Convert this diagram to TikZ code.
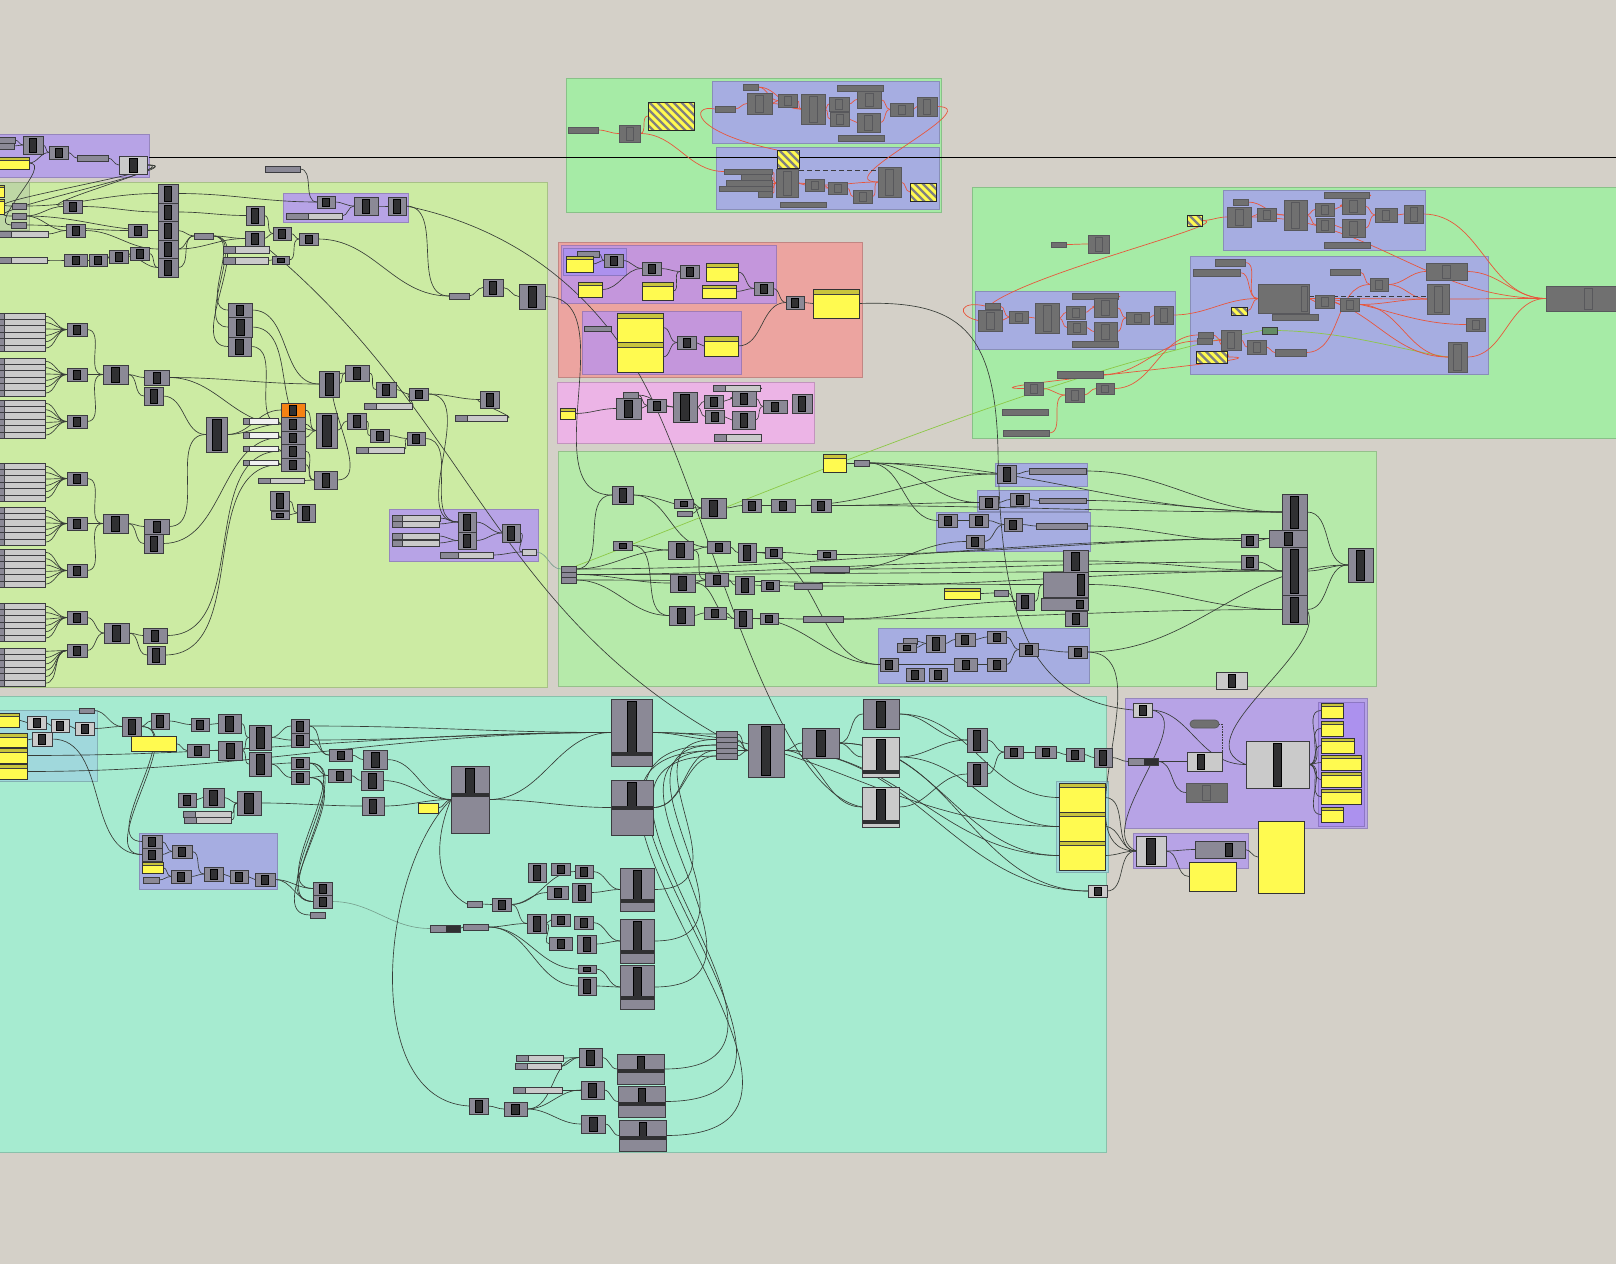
\documentclass[tikz,border=0pt]{standalone}
\definecolor{canvas}{RGB}{212,208,200}
\definecolor{grpgreen}{RGB}{166,235,166}
\definecolor{grplime}{RGB}{204,235,163}
\definecolor{grpmint}{RGB}{182,234,170}
\definecolor{grpteal}{RGB}{166,235,208}
\definecolor{grpblue}{RGB}{166,173,225}
\definecolor{grplav}{RGB}{183,163,230}
\definecolor{grpviolet}{RGB}{172,145,238}
\definecolor{grpmauve}{RGB}{196,150,220}
\definecolor{grpsalmon}{RGB}{236,164,160}
\definecolor{grppink}{RGB}{236,180,230}
\definecolor{grpcyan}{RGB}{160,216,220}
\definecolor{grpsage}{RGB}{190,215,165}
\definecolor{cgray}{RGB}{139,137,150}
\definecolor{cedge}{RGB}{60,60,64}
\definecolor{cbar}{RGB}{48,48,50}
\definecolor{clight}{RGB}{202,202,202}
\definecolor{cghost}{RGB}{112,112,112}
\definecolor{cghostedge}{RGB}{88,88,92}
\definecolor{cyellow}{RGB}{255,250,80}
\definecolor{chead}{RGB}{200,196,60}
\definecolor{corange}{RGB}{245,130,20}
\definecolor{cgreenbox}{RGB}{100,140,100}
\definecolor{wirec}{RGB}{55,60,55}
\definecolor{wirered}{RGB}{232,86,60}
\definecolor{wiregreen}{RGB}{140,200,70}

\pgfdeclarelayer{groups}
\pgfdeclarelayer{wires}
\pgfsetlayers{groups,wires,main}

\tikzset{bar half/.store in=\barhalf, bar half=3.5pt,
  sldl/.store in=\sldl, sldl=12pt,
  head h/.store in=\headh, head h=4pt,
  band/.store in=\bandpos, band=10pt}

% one component box from its corners (pixel units)
\newcommand{\gcomp}[6][comp]{\node[#1,minimum width={((#5)-(#3))*1pt},minimum height={((#6)-(#4))*1pt}] (#2) at ({((#3)+(#5))/2},{((#4)+(#6))/2}) {};}
\newcommand{\ggroup}[5]{\fill[#5,draw=#5!82!black,line width=0.9pt] (#1,#2) rectangle (#3,#4);}

\begin{document}
\begin{tikzpicture}[x=1pt,y=-1pt]
  \tikzstyle{comp}=[draw=cedge, fill=cgray, line width=0.7pt, inner sep=0pt, outer sep=0pt,
    path picture={\filldraw[fill=cbar,draw=black,line width=0.5pt] ([xshift=-\barhalf,yshift=1.8pt]path picture bounding box.south) rectangle ([xshift=\barhalf,yshift=-1.8pt]path picture bounding box.north);}]
  \tikzstyle{lcomp}=[comp, fill=clight]
  \tikzstyle{ghost}=[draw=cghostedge, fill=cghost, line width=0.7pt, inner sep=0pt, outer sep=0pt,
    path picture={\draw[cghostedge,line width=0.6pt] ([xshift=-\barhalf,yshift=1.8pt]path picture bounding box.south) rectangle ([xshift=\barhalf,yshift=-1.8pt]path picture bounding box.north);}]
  \tikzstyle{bcomp}=[draw=cedge, fill=cgray, line width=0.7pt, inner sep=0pt, outer sep=0pt,
    path picture={\filldraw[fill=cbar,draw=black,line width=0.5pt] ([xshift=-\barhalf,yshift=\bandpos+4pt]path picture bounding box.south) rectangle ([xshift=\barhalf,yshift=-1.8pt]path picture bounding box.north);
      \fill[cbar] ([yshift=\bandpos]path picture bounding box.south west) rectangle ([yshift=\bandpos+4.5pt]path picture bounding box.south east);}]
  \tikzstyle{lbcomp}=[bcomp, fill=clight]
  \tikzstyle{prm}=[draw=cedge, fill=cgray, line width=0.7pt, inner sep=0pt, outer sep=0pt]
  \tikzstyle{gprm}=[draw=cghostedge, fill=cghost, line width=0.7pt, inner sep=0pt, outer sep=0pt]
  \tikzstyle{dprm}=[prm, path picture={\fill[cbar] (path picture bounding box.south east) rectangle ([xshift=-\sldl]path picture bounding box.north east);}]
  \tikzstyle{sld}=[draw=cedge, fill=clight, line width=0.7pt, inner sep=0pt, outer sep=0pt,
    path picture={\fill[cgray] (path picture bounding box.south west) rectangle ([xshift=\sldl]path picture bounding box.north west);
      \draw[cedge,line width=0.5pt] ([xshift=\sldl]path picture bounding box.south west) -- ([xshift=\sldl]path picture bounding box.north west);}]
  \tikzstyle{pnl}=[draw=black!80, fill=cyellow, line width=0.7pt, inner sep=0pt, outer sep=0pt,
    path picture={\fill[chead] (path picture bounding box.north west) rectangle ([yshift=-\headh]path picture bounding box.north east);
      \draw[black!75,line width=0.6pt] ([yshift=-\headh]path picture bounding box.north west) -- ([yshift=-\headh]path picture bounding box.north east);}]
  \tikzstyle{ypnl}=[draw=black!80, fill=cyellow, line width=0.7pt, inner sep=0pt, outer sep=0pt]
  \tikzstyle{hatch}=[draw=black!85, fill=cyellow, line width=0.8pt, inner sep=0pt, outer sep=0pt,
    path picture={\foreach \i in {-80,-72,...,80} \draw[black!50,line width=2.4pt] ([xshift=\i*1pt]path picture bounding box.center) ++(-40pt,40pt) -- ++(80pt,-80pt);}]
  \tikzstyle{pill}=[draw=cghostedge, fill=cghost, rounded corners=4pt, line width=0.7pt, inner sep=0pt, outer sep=0pt]
  \tikzstyle{wire}=[draw=wirec, line width=0.65pt]
  \tikzstyle{rwire}=[draw=wirered, line width=0.7pt]
  \tikzstyle{gwire}=[draw=wiregreen, line width=0.7pt]
  \tikzstyle{fwire}=[draw=wirec!45!grpteal, line width=0.6pt]
  \tikzstyle{dwire}=[draw=cedge, dashed, line width=1pt, dash pattern=on 5pt off 3pt]

  \useasboundingbox (0,0) rectangle (1616,1264);

  \begin{pgfonlayer}{groups}
    \fill[canvas] (0,0) rectangle (1616,1264);
    \ggroup{-5}{134}{149}{177}{grplav}
    \ggroup{-5}{182}{547}{687}{grplime}
    \ggroup{-5}{182}{29}{230}{grpsage}
    \ggroup{283}{193}{408}{222}{grplav}
    \ggroup{389}{509}{538}{561}{grplav}
    \ggroup{566}{78}{941}{212}{grpgreen}
    \ggroup{712}{81}{939}{143}{grpblue}
    \ggroup{716}{147}{939}{209}{grpblue}
    \ggroup{558}{242}{862}{377}{grpsalmon}
    \ggroup{561}{245}{776}{303}{grpmauve}
    \ggroup{563}{248}{626}{275}{grpviolet}
    \ggroup{582}{311}{741}{374}{grpmauve}
    \ggroup{557}{382}{814}{443}{grppink}
    \ggroup{972}{187}{1630}{438}{grpgreen}
    \ggroup{1223}{190}{1425}{250}{grpblue}
    \ggroup{975}{291}{1175}{349}{grpblue}
    \ggroup{1190}{256}{1488}{374}{grpblue}
    \ggroup{558}{451}{1376}{686}{grpmint}
    \ggroup{995}{463}{1087}{486}{grpblue}
    \ggroup{977}{490}{1088}{511}{grpblue}
    \ggroup{936}{512}{1090}{551}{grpblue}
    \ggroup{878}{628}{1089}{683}{grpblue}
    \ggroup{-5}{696}{1106}{1152}{grpteal}
    \ggroup{-5}{710}{97}{781}{grpcyan}
    \ggroup{139}{833}{277}{889}{grpblue}
    \ggroup{1056}{781}{1108}{872}{grpcyan}
    \ggroup{1125}{698}{1367}{828}{grplav}
    \ggroup{1318}{702}{1364}{826}{grpviolet}
    \ggroup{1133}{833}{1248}{868}{grplav}
    \draw[black, line width=1pt] (149,157) -- (1616,157);
  \end{pgfonlayer}

  % top left
  \gcomp[prm]{tlp1}{-2}{137}{15}{143}
  \gcomp[prm]{tlp2}{-2}{143}{14}{149}
  \gcomp{tlc1}{23}{136}{43}{154}
  \gcomp{tlc2}{49}{146}{68}{159}
  \gcomp[prm]{tlp3}{77}{155}{108}{161}
  \gcomp[pnl,head h=3pt]{tly}{-2}{157}{29}{169}
  \gcomp[lcomp,bar half=4pt]{tlc3}{119}{156}{147}{174}

  % left green, top
  \gcomp[pnl,head h=2pt]{lgyl1}{-4}{185}{4}{197}
  \gcomp[pnl,head h=2pt]{lgyl2}{-4}{199}{4}{214}
  \gcomp[prm]{lgp1}{12}{203}{26}{209}
  \gcomp[prm]{lgp2}{12}{213}{26}{219}
  \gcomp[prm]{lgp3}{11}{222}{26}{228}
  \gcomp{lgc1}{63}{200}{82}{213}
  \gcomp[sld]{lgsl1}{-1}{231}{48}{237}
  \gcomp{lgc2}{66}{224}{85}{237}
  \gcomp{lgc3}{128}{224}{147}{237}
  \gcomp[sld]{lgsl2}{-1}{257}{47}{263}
  \gcomp{lgc4}{64}{254}{87}{266}
  \gcomp{lgc5}{89}{254}{107}{266}
  \gcomp{lgc6}{109}{250}{128}{263}
  \gcomp{lgc7}{130}{247}{149}{260}
  \foreach \k/\a/\b in {1/184/203,2/203/221,3/221/240,4/240/258,5/258/277}
    {\gcomp{lgk\k}{158}{\a}{178}{\b}}
  \gcomp[prm]{lgp4}{194}{233}{213}{239}
  \gcomp{lgc8}{246}{206}{264}{225}
  \gcomp{lgc9}{245}{231}{264}{246}
  \gcomp{lgc10}{273}{227}{291}{240}
  \gcomp[sld]{lgsl3}{223}{246}{269}{253}
  \gcomp[sld]{lgsl4}{223}{257}{268}{264}
  \gcomp{lgc11}{272}{256}{289}{264}
  \gcomp{lgc12}{299}{233}{318}{245}
  \gcomp[prm]{lgpx}{265}{166}{300}{172}
  \gcomp{lgq1}{317}{196}{335}{208}
  \gcomp{lgq2}{354}{197}{378}{215}
  \gcomp{lgq3}{388}{197}{406}{215}
  \gcomp[sld,sldl=22pt]{lgqs}{286}{213}{342}{219}
  \gcomp[prm]{lgp5}{449}{293}{469}{299}
  \gcomp{lgc13}{483}{279}{503}{296}
  \gcomp[comp,bar half=4pt]{lgc14}{519}{284}{545}{309}
  \gcomp{lgm1}{228}{303}{252}{317}
  \gcomp[comp,bar half=4pt]{lgm2}{228}{317}{252}{337}
  \gcomp[comp,bar half=4pt]{lgm3}{228}{337}{251}{356}

  % left green, middle
  \gcomp[comp,bar half=4pt]{lgc15}{319}{371}{339}{397}
  \gcomp{lgc16}{345}{365}{369}{381}
  \gcomp{lgc17}{376}{382}{396}{397}
  \gcomp[sld]{lgsl5}{364}{403}{412}{409}
  \gcomp{lgc18}{409}{388}{428}{400}
  \gcomp{lgc19}{480}{391}{499}{408}
  \gcomp[sld]{lgsl6}{455}{415}{507}{421}
  \gcomp{lgc20}{347}{413}{366}{429}
  \gcomp{lgc21}{370}{429}{389}{442}
  \gcomp[sld]{lgsl7}{356}{447}{404}{453}
  \gcomp{lgc22}{407}{432}{425}{445}
  \gcomp[comp,bar half=4.5pt]{lgc23}{316}{413}{337}{448}
  \gcomp{lgc24}{314}{471}{337}{489}
  \gcomp[sld]{lgsl8}{258}{478}{304}{483}
  \gcomp{lgc25}{270}{491}{289}{510}
  \gcomp{lgc26}{297}{504}{315}{522}
  \gcomp{lgc27}{271}{511}{289}{519}
  \gcomp[comp,fill=corange]{lgo}{281}{403}{305}{417}
  \foreach \k/\a/\b in {1/417/431,2/431/444,3/444/458,4/458/471}
    {\gcomp{lgn\k}{281}{\a}{305}{\b}}
  \foreach \k/\a/\b in {1/418/424,2/432/438,3/446/451,4/460/465}
    {\gcomp[sld,fill=white!88!gray,sldl=6pt]{lgw\k}{243}{\a}{278}{\b}}
  \gcomp[comp,bar half=4.5pt]{lgc28}{206}{417}{227}{452}
  \gcomp[sld,sldl=10pt]{lgr1}{392}{515}{440}{521}
  \gcomp[sld,sldl=10pt]{lgr2}{392}{521}{439}{527}
  \gcomp[sld,sldl=10pt]{lgr3}{392}{533}{439}{539}
  \gcomp[sld,sldl=10pt]{lgr4}{392}{540}{439}{546}
  \gcomp{lgrc1}{458}{512}{476}{532}
  \gcomp{lgrc2}{458}{532}{476}{549}
  \gcomp{lgrc3}{502}{524}{520}{542}
  \gcomp[sld,sldl=18pt]{lgr5}{440}{552}{493}{558}
  \gcomp[prm,fill=clight]{lgrp}{522}{549}{536}{555}

  % left green, slider stacks
  \foreach \s/\t in {1/313,2/358,3/400,4/463,5/507,6/549,7/603,8/648}
    \foreach \k in {0,...,5}
      {\gcomp[sld,sldl=5pt]{lgst\s\k}{-1}{\t+\k*6.4}{45}{\t+\k*6.4+6.4}}
  \foreach \s/\a/\b in {1/323/336,2/368/381,3/415/428,4/472/485,5/517/530,6/564/577,7/611/624,8/644/657}
    {\gcomp{lgf\s}{67}{\a}{87}{\b}}
  \gcomp[comp,bar half=4pt]{lgx1}{103}{365}{128}{384}
  \gcomp[comp,bar half=4pt]{lgx2}{103}{514}{128}{533}
  \gcomp[comp,bar half=4pt]{lgx3}{104}{623}{129}{643}
  \gcomp{lgy1}{144}{370}{169}{385}
  \gcomp{lgy2}{144}{387}{163}{405}
  \gcomp{lgy3}{144}{519}{169}{534}
  \gcomp{lgy4}{144}{534}{163}{553}
  \gcomp{lgy5}{143}{628}{167}{643}
  \gcomp{lgy6}{147}{646}{165}{664}

  % top middle
  \gcomp[gprm]{tmp1}{568}{127}{598}{133}
  \gcomp[ghost]{tmc1}{619}{125}{640}{142}
  \gcomp[hatch]{tmh1}{648}{102}{694}{130}
  \gcomp[gprm]{tmp2}{715}{106}{735}{112}
  \gcomp[gprm]{tmp3}{743}{84}{758}{90}
  \gcomp[ghost,bar half=4pt]{tmg1}{747}{93}{772}{114}
  \gcomp[ghost]{tmg2}{778}{94}{797}{107}
  \gcomp[ghost,bar half=4pt]{tmg3}{801}{94}{825}{124}
  \gcomp[ghost]{tmg4}{829}{97}{849}{111}
  \gcomp[ghost]{tmg5}{830}{112}{849}{126}
  \gcomp[gprm]{tmp4}{837}{85}{883}{91}
  \gcomp[ghost,bar half=4pt]{tmg6}{857}{91}{881}{108}
  \gcomp[ghost,bar half=4pt]{tmg7}{857}{113}{880}{132}
  \gcomp[gprm]{tmp5}{838}{135}{884}{141}
  \gcomp[ghost]{tmg8}{890}{103}{913}{116}
  \gcomp[ghost]{tmg9}{917}{97}{937}{116}
  \gcomp[hatch]{tmh2}{777}{150}{799}{168}
  \gcomp[gprm]{tmp6}{724}{169}{772}{174}
  \gcomp[gprm]{tmp7}{741}{174}{771}{180}
  \gcomp[gprm]{tmp8}{726}{180}{772}{186}
  \gcomp[gprm]{tmp9}{719}{186}{772}{191}
  \gcomp[gprm]{tmp10}{758}{191}{772}{197}
  \gcomp[ghost,bar half=4pt]{tmg10}{776}{169}{798}{197}
  \gcomp[ghost]{tmg11}{805}{179}{824}{191}
  \gcomp[ghost]{tmg12}{828}{182}{847}{194}
  \gcomp[ghost]{tmg13}{853}{190}{872}{203}
  \gcomp[gprm]{tmp11}{780}{202}{826}{207}
  \gcomp[ghost,bar half=4pt]{tmg14}{878}{167}{901}{197}
  \gcomp[hatch]{tmh3}{910}{183}{936}{201}

  % salmon and pink
  \gcomp[prm]{saq1}{577}{251}{599}{257}
  \gcomp[pnl,head h=3pt]{say1}{566}{256}{593}{272}
  \gcomp{sac1}{604}{254}{623}{267}
  \gcomp[pnl,head h=3pt]{say2}{578}{282}{602}{297}
  \gcomp{sac2}{642}{262}{661}{275}
  \gcomp{sac3}{680}{265}{699}{278}
  \gcomp[pnl]{say3}{642}{282}{673}{300}
  \gcomp[pnl]{say4}{706}{263}{738}{281}
  \gcomp[pnl,head h=3pt]{say5}{702}{285}{736}{298}
  \gcomp{sac4}{754}{282}{773}{295}
  \gcomp{sac5}{786}{296}{804}{309}
  \gcomp[pnl,head h=5pt]{say6}{813}{289}{859}{318}
  \gcomp[prm]{sap1}{584}{326}{611}{331}
  \gcomp[pnl,head h=5pt]{say7}{617}{313}{663}{342}
  \gcomp[pnl,head h=5pt]{say8}{617}{342}{663}{372}
  \gcomp{sac6}{677}{336}{696}{349}
  \gcomp[pnl,head h=5pt]{say9}{704}{336}{738}{356}
  \gcomp[pnl,head h=3pt]{pky}{560}{408}{575}{419}
  \gcomp[prm]{pkp}{623}{392}{638}{398}
  \gcomp[comp,bar half=4pt]{pkc1}{616}{398}{641}{419}
  \gcomp{pkc2}{647}{399}{666}{412}
  \gcomp[comp,bar half=4.5pt]{pkc3}{673}{392}{697}{422}
  \gcomp{pkc4}{704}{395}{723}{408}
  \gcomp{pkc5}{705}{410}{724}{423}
  \gcomp[sld]{pks1}{713}{385}{760}{391}
  \gcomp{pkc6}{732}{391}{756}{406}
  \gcomp{pkc7}{732}{411}{755}{429}
  \gcomp[sld]{pks2}{714}{434}{761}{441}
  \gcomp{pkc8}{763}{400}{787}{413}
  \gcomp{pkc9}{792}{394}{812}{413}

  % right green
  \gcomp[gprm]{rgp1}{1051}{242}{1066}{247}
  \gcomp[ghost]{rgg1}{1088}{235}{1109}{253}
  \gcomp[hatch]{rgh1}{1187}{215}{1202}{226}
  \gcomp[gprm]{rga1}{1233}{199}{1248}{205}
  \gcomp[ghost,bar half=4pt]{rga2}{1227}{207}{1251}{227}
  \gcomp[ghost]{rga3}{1257}{208}{1276}{221}
  \gcomp[ghost,bar half=4pt]{rga4}{1284}{200}{1307}{230}
  \gcomp[ghost]{rga5}{1315}{203}{1334}{216}
  \gcomp[ghost]{rga6}{1316}{218}{1334}{232}
  \gcomp[gprm]{rga7}{1324}{192}{1369}{198}
  \gcomp[ghost,bar half=4pt]{rga8}{1342}{198}{1365}{214}
  \gcomp[ghost,bar half=4pt]{rga9}{1342}{219}{1365}{237}
  \gcomp[gprm]{rga10}{1324}{242}{1370}{248}
  \gcomp[ghost]{rga11}{1375}{208}{1397}{222}
  \gcomp[ghost]{rga12}{1404}{205}{1423}{223}
  \gcomp[gprm]{rgb1}{985}{303}{1000}{309}
  \gcomp[ghost,bar half=4pt]{rgb2}{978}{310}{1002}{331}
  \gcomp[ghost]{rgb3}{1009}{311}{1028}{323}
  \gcomp[ghost,bar half=4pt]{rgb4}{1035}{303}{1059}{333}
  \gcomp[ghost]{rgb5}{1066}{306}{1085}{319}
  \gcomp[ghost]{rgb6}{1067}{321}{1086}{334}
  \gcomp[gprm]{rgb7}{1072}{293}{1118}{299}
  \gcomp[ghost,bar half=4pt]{rgb8}{1094}{298}{1117}{317}
  \gcomp[ghost,bar half=4pt]{rgb9}{1094}{322}{1117}{341}
  \gcomp[gprm]{rgb10}{1072}{341}{1118}{347}
  \gcomp[ghost]{rgb11}{1126}{312}{1149}{324}
  \gcomp[ghost]{rgb12}{1154}{306}{1173}{324}
  \gcomp[gprm]{rgc1}{1215}{259}{1245}{266}
  \gcomp[gprm]{rgc2}{1193}{269}{1240}{276}
  \node[ghost, minimum width=51pt, minimum height=29pt, path picture={\draw[cghostedge,line width=0.6pt] ([xshift=-8pt,yshift=1.8pt]path picture bounding box.south east) rectangle ([xshift=-1.8pt,yshift=-1.8pt]path picture bounding box.north east);}] (rgc3) at (1283.5,298.5) {};
  \gcomp[gprm]{rgc4}{1272}{314}{1318}{320}
  \gcomp[gprm]{rgc5}{1330}{269}{1360}{275}
  \gcomp[ghost]{rgc6}{1370}{278}{1388}{291}
  \gcomp[ghost]{rgc7}{1315}{295}{1334}{308}
  \gcomp[ghost]{rgc8}{1340}{298}{1359}{311}
  \gcomp[ghost,bar half=4pt]{rgc9}{1426}{263}{1467}{280}
  \gcomp[ghost,bar half=4pt]{rgc10}{1427}{284}{1449}{314}
  \gcomp[ghost]{rgc11}{1466}{318}{1485}{331}
  \gcomp[ghost,bar half=4pt]{rgc12}{1448}{342}{1467}{372}
  \gcomp[hatch]{rgh2}{1231}{307}{1247}{315}
  \gcomp[prm,fill=cgreenbox]{rgn}{1262}{327}{1277}{334}
  \gcomp[gprm]{rgc13}{1198}{332}{1213}{338}
  \gcomp[gprm]{rgc14}{1197}{338}{1212}{344}
  \gcomp[ghost]{rgc15}{1221}{330}{1241}{350}
  \gcomp[ghost]{rgc16}{1247}{340}{1266}{354}
  \gcomp[gprm]{rgc17}{1275}{349}{1306}{356}
  \gcomp[hatch]{rgh3}{1196}{351}{1227}{363}
  \gcomp[ghost,bar half=4pt]{rgbig}{1546}{286}{1630}{311}
  \gcomp[gprm]{rgd1}{1057}{371}{1103}{378}
  \gcomp[ghost]{rgd2}{1024}{382}{1043}{395}
  \gcomp[ghost]{rgd3}{1065}{388}{1084}{402}
  \gcomp[ghost]{rgd4}{1096}{383}{1114}{394}
  \gcomp[gprm]{rgd5}{1002}{409}{1048}{415}
  \gcomp[gprm]{rgd6}{1003}{430}{1049}{436}

  % middle green
  \gcomp[pnl,head h=4pt]{mgy}{823}{454}{846}{472}
  \gcomp[prm]{mgp1}{854}{460}{869}{466}
  \gcomp{mgc1}{612}{486}{633}{504}
  \gcomp{mgc2}{674}{499}{693}{508}
  \gcomp[prm]{mgp2}{677}{511}{692}{516}
  \gcomp[comp,bar half=4pt]{mgc3}{701}{498}{726}{518}
  \gcomp{mgc4}{742}{499}{761}{512}
  \gcomp{mgc5}{771}{499}{795}{512}
  \gcomp{mgc6}{811}{499}{831}{512}
  \gcomp{mgc7}{613}{541}{632}{550}
  \gcomp[comp,bar half=4pt]{mgc8}{668}{541}{693}{559}
  \gcomp{mgc9}{707}{541}{730}{553}
  \gcomp{mgc10}{738}{543}{756}{562}
  \gcomp{mgc11}{765}{547}{782}{558}
  \gcomp{mgc12}{817}{550}{836}{559}
  \gcomp[prm]{mgq1}{561}{566}{576}{572}
  \gcomp[prm]{mgq2}{561}{572}{576}{577}
  \gcomp[prm]{mgq3}{561}{577}{576}{583}
  \gcomp[comp,bar half=4pt]{mgc13}{670}{574}{695}{592}
  \gcomp{mgc14}{705}{573}{728}{586}
  \gcomp{mgc15}{735}{576}{754}{594}
  \gcomp{mgc16}{761}{580}{779}{591}
  \gcomp[prm]{mgp3}{810}{566}{849}{572}
  \gcomp[prm]{mgp4}{794}{583}{822}{589}
  \gcomp[comp,bar half=4pt]{mgc17}{669}{606}{694}{625}
  \gcomp{mgc18}{704}{607}{726}{619}
  \gcomp{mgc19}{734}{609}{752}{628}
  \gcomp{mgc20}{760}{613}{778}{624}
  \gcomp[prm]{mgp5}{803}{616}{843}{622}
  \gcomp{mga1}{997}{465}{1016}{483}
  \gcomp[prm]{mgap1}{1029}{468}{1086}{474}
  \gcomp{mga2}{979}{496}{998}{509}
  \gcomp{mga3}{1010}{493}{1029}{506}
  \gcomp[prm]{mgap2}{1039}{498}{1086}{503}
  \gcomp{mga4}{938}{514}{957}{527}
  \gcomp{mga5}{969}{514}{988}{527}
  \gcomp{mga6}{1004}{518}{1022}{531}
  \gcomp[prm]{mgap3}{1036}{523}{1087}{529}
  \gcomp{mga7}{966}{535}{984}{548}
  \gcomp[comp,bar half=4pt]{mgb1}{1063}{550}{1088}{572}
  \node[comp, minimum width=45pt, minimum height=25pt, path picture={\filldraw[fill=cbar,draw=black,line width=0.5pt] ([xshift=-11pt,yshift=1.8pt]path picture bounding box.south east) rectangle ([xshift=-4pt,yshift=-1.8pt]path picture bounding box.north east);}] (mgb2) at (1065.5,584.5) {};
  \node[comp, minimum width=47pt, minimum height=12pt, path picture={\filldraw[fill=cbar,draw=black,line width=0.5pt] ([xshift=-12pt,yshift=1.8pt]path picture bounding box.south east) rectangle ([xshift=-5pt,yshift=-1.8pt]path picture bounding box.north east);}] (mgb3) at (1064.5,604) {};
  \gcomp{mgb4}{1065}{611}{1087}{626}
  \gcomp[pnl,head h=3pt]{mgy2}{944}{588}{980}{599}
  \gcomp[prm]{mgp6}{994}{590}{1008}{596}
  \gcomp{mgc21}{1016}{593}{1034}{610}
  \gcomp[prm]{mgd1}{903}{638}{917}{644}
  \gcomp{mgd2}{897}{643}{916}{652}
  \gcomp{mgd3}{926}{635}{945}{652}
  \gcomp{mgd4}{955}{633}{975}{646}
  \gcomp{mgd5}{987}{631}{1006}{643}
  \gcomp{mgd6}{1019}{643}{1038}{656}
  \gcomp{mgd7}{1068}{646}{1087}{658}
  \gcomp{mgd8}{880}{658}{898}{671}
  \gcomp{mgd9}{906}{668}{924}{681}
  \gcomp{mgd10}{929}{668}{947}{681}
  \gcomp{mgd11}{954}{658}{977}{671}
  \gcomp{mgd12}{987}{658}{1006}{671}
  \gcomp[comp,bar half=4pt]{mge1}{1282}{494}{1307}{530}
  \gcomp[comp,bar half=4pt]{mge2}{1269}{530}{1307}{547}
  \gcomp[comp,bar half=4pt]{mge3}{1282}{547}{1307}{595}
  \gcomp[comp,bar half=4pt]{mge4}{1282}{595}{1307}{624}
  \gcomp{mgf1}{1241}{534}{1258}{547}
  \gcomp{mgf2}{1241}{555}{1258}{569}
  \gcomp[comp,bar half=4pt]{mgg}{1348}{548}{1373}{582}

  % bottom teal, left part
  \gcomp[pnl,head h=3pt]{bty1}{-2}{713}{19}{727}
  \gcomp[pnl,head h=4pt]{bty2}{-2}{733}{27}{747}
  \gcomp[pnl,head h=4pt]{bty3}{-2}{748}{27}{763}
  \gcomp[pnl,head h=4pt]{bty4}{-2}{764}{27}{779}
  \gcomp[lcomp]{btl1}{27}{716}{46}{729}
  \gcomp[lcomp]{btl2}{51}{719}{69}{732}
  \gcomp[lcomp]{btl3}{32}{732}{52}{746}
  \gcomp[lcomp]{btl4}{75}{722}{94}{735}
  \gcomp[prm]{btp1}{79}{708}{94}{713}
  \gcomp{btc1}{122}{717}{141}{736}
  \gcomp{btc2}{151}{713}{169}{729}
  \gcomp[ypnl]{bty5}{131}{736}{176}{751}
  \gcomp{btc3}{191}{718}{209}{731}
  \gcomp[comp,bar half=4pt]{btc4}{218}{714}{241}{733}
  \gcomp{btc5}{187}{744}{209}{757}
  \gcomp[comp,bar half=4pt]{btc6}{218}{741}{242}{760}
  \gcomp[comp,bar half=4pt]{btc7}{249}{725}{271}{750}
  \gcomp[comp,bar half=4pt]{btc8}{249}{752}{271}{776}
  \gcomp{btc9}{291}{719}{309}{733}
  \gcomp{btc10}{291}{733}{309}{747}
  \gcomp{btc11}{291}{757}{309}{769}
  \gcomp{btc12}{291}{771}{309}{784}
  \gcomp{btc13}{329}{749}{352}{761}
  \gcomp{btc14}{328}{769}{351}{782}
  \gcomp[comp,bar half=4pt]{btc15}{363}{750}{387}{769}
  \gcomp[comp,bar half=4pt]{btc16}{361}{771}{383}{790}
  \gcomp{btc17}{362}{797}{384}{815}
  \gcomp[ypnl]{bty6}{418}{803}{438}{813}
  \gcomp{btc18}{178}{793}{196}{807}
  \gcomp[comp,bar half=4pt]{btc19}{203}{788}{224}{807}
  \gcomp[comp,bar half=4.5pt]{btc20}{237}{791}{261}{815}
  \gcomp[sld]{bts1}{183}{811}{231}{817}
  \gcomp[sld]{bts2}{184}{817}{231}{823}
  \gcomp{btd1}{142}{835}{162}{848}
  \gcomp{btd2}{142}{848}{162}{861}
  \gcomp[pnl,head h=3pt]{bty7}{142}{862}{163}{873}
  \gcomp[prm]{btdp}{143}{877}{159}{883}
  \gcomp{btd3}{172}{845}{192}{858}
  \gcomp{btd4}{171}{870}{191}{883}
  \gcomp{btd5}{204}{867}{223}{881}
  \gcomp{btd6}{230}{870}{248}{883}
  \gcomp{btd7}{255}{873}{275}{886}
  \gcomp{bte1}{313}{882}{332}{895}
  \gcomp{bte2}{313}{895}{332}{908}
  \gcomp[prm]{btep}{310}{912}{325}{918}

  % bottom teal, middle and right part
  \gcomp[bcomp,bar half=4.5pt,band=10pt]{btB1}{611}{699}{652}{766}
  \gcomp[bcomp,bar half=4.5pt,band=36pt]{btB2}{451}{766}{489}{833}
  \gcomp[bcomp,bar half=4.5pt,band=25pt]{btB3}{611}{780}{653}{835}
  \foreach \k/\a/\b in {1/731/737,2/737/742,3/742/748,4/748/753,5/753/759}
    {\gcomp[prm]{btk\k}{716}{\a}{737}{\b}}
  \gcomp[comp,bar half=4.5pt]{btB4}{748}{724}{784}{777}
  \gcomp[comp,bar half=4.5pt]{btc21}{802}{728}{839}{758}
  \gcomp[comp,bar half=4.5pt]{btc22}{863}{699}{899}{729}
  \gcomp[lbcomp,bar half=4.5pt,band=3pt]{btL1}{862}{737}{899}{777}
  \gcomp[lbcomp,bar half=4.5pt,band=3pt]{btL2}{862}{787}{899}{827}
  \gcomp{btc23}{967}{728}{987}{752}
  \gcomp{btc24}{967}{762}{987}{786}
  \gcomp{btc25}{1004}{746}{1023}{758}
  \gcomp{btc26}{1035}{746}{1056}{758}
  \gcomp{btc27}{1066}{748}{1084}{761}
  \gcomp{btc28}{1094}{748}{1112}{767}
  \gcomp[pnl,head h=4pt]{btY1}{1059}{783}{1105}{812}
  \gcomp[pnl,head h=4pt]{btY2}{1059}{812}{1105}{841}
  \gcomp[pnl,head h=4pt]{btY3}{1059}{841}{1105}{870}
  \gcomp[lcomp]{btx}{1088}{885}{1107}{897}
  \gcomp{btf1}{528}{863}{546}{882}
  \gcomp{btf2}{551}{863}{570}{875}
  \gcomp{btf3}{575}{865}{593}{878}
  \gcomp[bcomp,bar half=4pt,band=8pt]{btF1}{620}{868}{654}{911}
  \gcomp{btf4}{547}{886}{568}{899}
  \gcomp{btf5}{572}{883}{591}{902}
  \gcomp[prm]{btfp1}{467}{901}{482}{907}
  \gcomp{btf6}{492}{898}{511}{911}
  \gcomp[dprm,sldl=14pt]{btfp2}{430}{925}{460}{932}
  \gcomp[prm]{btfp3}{463}{924}{488}{930}
  \gcomp{btf7}{527}{914}{546}{933}
  \gcomp{btf8}{551}{914}{570}{926}
  \gcomp{btf9}{574}{916}{593}{929}
  \gcomp{btf10}{549}{937}{572}{950}
  \gcomp{btf11}{577}{935}{596}{953}
  \gcomp[bcomp,bar half=4pt,band=9pt]{btF2}{620}{919}{654}{963}
  \gcomp{btf12}{578}{965}{596}{973}
  \gcomp{btf13}{578}{977}{596}{995}
  \gcomp[bcomp,bar half=4pt,band=9pt]{btF3}{620}{965}{654}{1009}
  \gcomp[sld]{bts3}{516}{1055}{563}{1061}
  \gcomp[sld]{bts4}{515}{1063}{561}{1069}
  \gcomp[sld]{bts5}{513}{1087}{562}{1093}
  \gcomp[comp,bar half=4pt]{btg1}{579}{1048}{602}{1067}
  \gcomp[comp,bar half=4pt]{btg2}{581}{1081}{604}{1099}
  \gcomp[comp,bar half=4pt]{btg3}{581}{1115}{605}{1133}
  \gcomp[bcomp,bar half=3.5pt,band=11pt]{btG1}{617}{1054}{664}{1084}
  \gcomp[bcomp,bar half=3.5pt,band=11pt]{btG2}{618}{1086}{665}{1117}
  \gcomp[bcomp,bar half=3.5pt,band=11pt]{btG3}{619}{1120}{666}{1151}
  \gcomp{btg4}{469}{1098}{488}{1114}
  \gcomp[comp,bar half=4pt]{btg5}{504}{1102}{527}{1116}

  % right purple
  \gcomp[lcomp]{rpt}{1216}{672}{1247}{689}
  \gcomp[lcomp]{rpc1}{1133}{703}{1152}{717}
  \gcomp[pill]{rpo}{1190}{720}{1219}{728}
  \gcomp[dprm,sldl=14pt]{rpp}{1128}{758}{1158}{765}
  \node[lcomp, minimum width=35pt, minimum height=19pt, path picture={\filldraw[fill=cbar,draw=black,line width=0.5pt] ([xshift=-7pt,yshift=1.8pt]path picture bounding box.south) rectangle ([xshift=0pt,yshift=-1.8pt]path picture bounding box.north);}] (rpc2) at (1204.5,761.5) {};
  \gcomp[ghost,bar half=4pt]{rpg}{1186}{783}{1227}{802}
  \gcomp[lcomp,bar half=4pt]{rpC}{1246}{741}{1309}{788}
  \foreach \k/\a/\b/\w in {1/703/718/1343,2/721/736/1343,3/738/753/1354,4/755/770/1361,5/772/787/1361,6/789/804/1361,7/807/822/1343}
    {\gcomp[pnl,head h=3pt]{rpy\k}{1321}{\a}{\w}{\b}}
  \gcomp[lcomp,bar half=4.5pt]{rpc3}{1136}{836}{1166}{866}
  \node[comp, minimum width=50pt, minimum height=17pt, path picture={\filldraw[fill=cbar,draw=black,line width=0.5pt] ([xshift=5pt,yshift=1.8pt]path picture bounding box.south) rectangle ([xshift=12pt,yshift=-1.8pt]path picture bounding box.north);}] (rpc4) at (1220,849.5) {};
  \gcomp[ypnl]{rpy8}{1189}{862}{1236}{891}
  \gcomp[ypnl]{rpy9}{1258}{821}{1304}{893}

  \begin{pgfonlayer}{wires}
    % top left and left green
    \foreach \a/\b in {tlp1/tlc1, tlp2/tlc1, tlc1/tlc2, tly/tlc2, tlc2/tlp3, tlp3/tlc3,
        tlc3/lgc1, tlc3/lgp2, tlc3/lgp1, tly/lgp3,
        lgp1/lgk1, lgp2/lgc1, lgp2/lgk3, lgp2/lgc2, lgp3/lgc3, lgc1/lgk2, lgsl1/lgc2, lgc2/lgk4,
        lgc3/lgk3, lgsl2/lgc4, lgc4/lgc5, lgc5/lgc6, lgc6/lgc7, lgc7/lgk5, lgc6/lgk5, lgk1/lgq1,
        lgk2/lgc8, lgk3/lgp4, lgk4/lgp4, lgk5/lgp4, lgc8/lgc10, lgp4/lgc9, lgp4/lgm1, lgp4/lgm2,
        lgp4/lgm3, lgc9/lgc10, lgc10/lgc12, lgsl4/lgc11, lgc11/lgc12, lgpx/lgq1, lgq1/lgq2,
        lgqs/lgq2, lgq2/lgq3, lgq3/lgp5, lgc12/lgp5, lgp5/lgc13, lgc13/lgc14, lgm1/lgc15,
        lgm2/lgc23, lgm3/lgn1, lgc15/lgc16, lgc16/lgc17, lgc17/lgc18, lgsl5/lgc18, lgc18/lgc19,
        lgsl6/lgc19, lgc18/lgrc1, lgc28/lgo, lgc28/lgn1, lgw1/lgn1, lgw2/lgn2, lgw3/lgn3,
        lgw4/lgn4, lgo/lgc23, lgn1/lgc23, lgn2/lgc23, lgn3/lgc24, lgn4/lgc24, lgsl8/lgc24,
        lgc23/lgc20, lgc20/lgc21, lgc21/lgc22, lgsl7/lgc22, lgc22/lgrc1, lgc24/lgc16,
        lgc25/lgc26, lgc27/lgc26, lgr1/lgrc1, lgr2/lgrc1, lgr3/lgrc2, lgr4/lgrc2, lgrc1/lgrc3,
        lgrc2/lgrc3, lgrc3/lgrp, lgr5/lgrp, lgx1/lgy1, lgx1/lgy2, lgx2/lgy3, lgx2/lgy4,
        lgx3/lgy5, lgx3/lgy6, lgf1/lgx1, lgf2/lgx1, lgf3/lgx1, lgf4/lgx2, lgf5/lgx2, lgf6/lgx2,
        lgf7/lgx3, lgf8/lgx3, lgy1/lgc15, lgy2/lgc28, lgy3/lgc28, lgy4/lgn2, lgy5/lgn3,
        lgy6/lgn4, lgy1/lgn1, lgk4/lgc9, lgc14/mgc1}
      \draw[wire] (\a.east) to[out=0,in=180] (\b.west);
    \foreach \s in {1,...,8}
      \foreach \k in {0,...,5}
        \draw[wire] (lgst\s\k.east) to[out=0,in=180] (lgf\s.west);

    % long connectors across the canvas
    \draw[wire] (lgsl3.east) to[out=-40,in=150] (btk1.west);
    \draw[wire] (lgq3.east) .. controls (500,225) and (590,280) .. (645,385)
      .. controls (710,510) and (770,790) .. (btL2.west);
    \draw[wire] (say6.east) .. controls (960,300) and (995,330) .. (998,450)
      .. controls (1000,620) and (1030,700) .. (rpc1.west);
    \draw[wire] (mge4.east) .. controls (1330,650) and (1180,740) .. (rpC.west);
    \draw[fwire] (lgrp.east) to[out=0,in=180] (mgq1.west);
    \draw[gwire] (mgq1.north east) .. controls (750,500) and (1050,370) .. (rgn.west);
    \draw[gwire] (rgn.east) .. controls (1350,332) and (1400,350) .. (rgc12.west);

    % top middle
    \foreach \a/\b in {tmp1/tmc1, tmc1/tmh1, tmc1/tmp6, tmp2/tmg1, tmp3/tmg2, tmp3/tmg3, tmg1/tmg2,
        tmg1/tmg3, tmg2/tmg3, tmg3/tmg4, tmg3/tmg5, tmg4/tmg6, tmg5/tmg7, tmg6/tmg8, tmg7/tmg8,
        tmg8/tmg9, tmp6/tmg10, tmp7/tmg10, tmp8/tmg10, tmp9/tmg10, tmp10/tmg10, tmg10/tmg11,
        tmg11/tmg12, tmg10/tmg12, tmg12/tmg13, tmg11/tmg14, tmg13/tmg14, tmg14/tmh3}
      \draw[rwire] (\a.east) to[out=0,in=180] (\b.west);
    \draw[rwire] (tmg9.east) to[out=0,in=180,looseness=1.4] (tmg14.west);
    \draw[rwire] (tmp2.west) .. controls (690,104) and (690,132) .. (tmh2.north west);
    \draw[dwire] ([yshift=-2pt]tmh2.south east) -- ([yshift=-2pt]tmh2.south east -| tmg14.west);

    % salmon and pink
    \foreach \a/\b in {say1/sac1, saq1/sac1, sac1/sac2, say2/sac2, sac2/sac3, say3/sac3, say4/sac4,
        say5/sac4, sac4/sac5, sac5/say6, say7/sac6, say8/sac6, sac6/say9, say9/sac5, pky/pkc1,
        pkp/pkc3, pkp/pkc2, pkc1/pkc2, pkc2/pkc3, pkc3/pkc4, pkc3/pkc5, pkc4/pkc6, pkc5/pkc7,
        pkc6/pkc8, pkc7/pkc8, pks1/pkc6}
      \draw[wire] (\a.east) to[out=0,in=180] (\b.west);

    % right green
    \foreach \a/\b in {rgp1/rgg1, rga1/rga4, rga2/rga3, rga3/rga4, rga4/rga5, rga4/rga6, rga7/rga8,
        rga5/rga8, rga6/rga9, rga8/rga11, rga9/rga11, rga11/rga12, rga12/rgbig, rga2/rgbig,
        rgb1/rgb3, rgb2/rgb3, rgb3/rgb4, rgb4/rgb5, rgb4/rgb6, rgb7/rgb8, rgb5/rgb8, rgb6/rgb9,
        rgb8/rgb11, rgb9/rgb11, rgb11/rgb12, rgb12/rgc3, rgc1/rgc3, rgc2/rgc3, rgc3/rgc7,
        rgc7/rgc8, rgc8/rgc10, rgc3/rgc10, rgc3/rgc11, rgc5/rgc6, rgc6/rgc9, rgc6/rgc10,
        rgc9/rgbig, rgc10/rgbig, rgc12/rgbig, rgc13/rgc15, rgc14/rgc15, rgh3/rgc15, rgc15/rgc16,
        rgc16/rgc17, rgh2/rgc3, rgd2/rgd3, rgd3/rgd4, rgd6/rgd3, rgc3/rgc12, rgc8/rgc12,
        rgc17/rgc6, rgd4/rgc13, rgh3/rgd2, rgd1/rgc14, rgh1/rga2}
      \draw[rwire] (\a.east) to[out=0,in=180] (\b.west);
    \draw[rwire] (rgh1.east) .. controls (1240,222) and (1040,270) .. (rgb1.north);
    \draw[rwire] (rgb2.west) .. controls (955,315) and (960,300) .. (rgb1.west);
    \draw[dwire] ([yshift=2.5pt]rgc3.east) -- ([yshift=2.5pt]rgc3.east -| rgc10.west);

    % middle green
    \foreach \a/\b in {mgy/mgp1, mgp1/mga1, mgp1/mga2, mgp1/mga4, mgp1/mge1, mgq1/mgc1, mgq1/mgc8,
        mgq2/mgc13, mgq3/mgc17, mgq1/mge2, mgq2/mge3, mgq3/mgb2, mgq2/mgb1, mgc1/mgc3,
        mgc2/mgc3, mgp2/mgc3, mgc3/mgc4, mgc4/mgc5, mgc5/mgc6, mgc6/mga2, mgc6/mge1, mgc1/mgc9,
        mgc7/mgc8, mgc8/mgc9, mgc9/mgc10, mgc10/mgc11, mgc11/mgc12, mgc12/mge2, mgc13/mgc14,
        mgc14/mgc15, mgc15/mgc16, mgc16/mgp4, mgp4/mge3, mgp3/mga7, mgp3/mgf2, mgc17/mgc18,
        mgc18/mgc19, mgc19/mgc20, mgc20/mgp5, mgp5/mgc21, mgp5/mge4, mga1/mgap1, mga2/mga3,
        mga3/mgap2, mga4/mga5, mga5/mga6, mga6/mgap3, mga7/mga6, mgap1/mge1, mgap2/mge1,
        mgap3/mgf1, mgf1/mge2, mgf2/mge3, mgy2/mgp6, mgp6/mgc21, mgc21/mgb2, mgb1/mge3,
        mgb2/mge4, mgd1/mgd3, mgd2/mgd3, mgd3/mgd4, mgd4/mgd5, mgd5/mgd6, mgd6/mgd7,
        mgd8/mgd11, mgd11/mgd12, mgd12/mgd6, mgd7/mgg, mgc19/mgd8, mgc10/mgd8, mge1/mgg,
        mge3/mgg, mge4/mgg, mgc8/mgc14, mgc13/mgc19, mgc7/mgc17, mgc5/mga1}
      \draw[wire] (\a.east) to[out=0,in=180] (\b.west);

    % bottom teal
    \foreach \a/\b in {bty1/btl1, bty2/btl3, btp1/btc1, btl4/btc1, btl1/btl2, btl2/btl4, btc1/btc2,
        btc2/btc3, btc3/btc4, bty5/btc5, btc5/btc6, btc4/btc7, btc6/btc7, btc6/btc8, btc7/btc9,
        btc7/btc10, btc8/btc11, btc8/btc12, btc9/btc13, btc10/btc13, btc11/btc14, btc12/btc14,
        btc13/btc15, btc14/btc16, btc15/btB2, btc16/btB2, btc17/btB2, bty6/btB2, btc18/btc19,
        btc19/btc20, bts1/btc20, bts2/btc20, btc20/btc17, btd1/btd3, btd2/btd3, btd3/btd5,
        btd4/btd5, btdp/btd4, bty7/btd4, btd5/btd6, btd6/btd7, btd7/bte1, btd7/bte2,
        bty3/btB1, bty4/btB1, btc9/btB1, btc10/btB1, btB2/btB1, btB2/btB3, btB1/btk1,
        btB1/btk2, btB3/btk4, btB3/btk5, btk1/btB4, btk2/btB4, btk3/btB4, btk4/btB4, btk5/btB4,
        btB4/btc21, btc21/btc22, btc21/btL1, btc22/btc23, btL1/btc23, btL2/btc24, btc23/btc25,
        btc24/btc25, btc25/btc26, btc26/btc27, btc27/btc28, btc22/btY1, btL1/btY2, btB4/btY3,
        btB4/btx, btc21/btx, btB4/btL2, bts3/btg1, bts4/btg1, bts5/btg2, btg4/btg5, btg5/btg1,
        btg5/btg2, btg5/btg3, btg1/btG1, btg2/btG2, btg3/btG3, btfp1/btf6, btf6/btf3,
        btf6/btf4, btf6/btf7, btf3/btF1, btf5/btF1, btfp2/btfp3, btfp3/btf7, btfp3/btf12,
        btfp3/btf13, btf7/btf8, btf7/btf10, btf9/btF2, btf11/btF2, btf12/btF3, btf13/btF3,
        btc11/bte1, btc12/bte2, btc11/bte2, btc12/btep, btc1/btd1, btc1/btd2, btl3/btd2,
        btB1/btY2, btc21/btY3}
      \draw[wire] (\a.east) to[out=0,in=180] (\b.west);
    \foreach \a/\b in {btF1/btk2, btF2/btk3, btF3/btk4, btG1/btk5, btG2/btk3, btG3/btk4}
      \draw[wire] (\a.east) to[out=0,in=180,looseness=1.6] (\b.west);
    \draw[fwire] (bte2.east) to[out=0,in=180] (btfp2.west);
    \draw[wire] (btB2.west) .. controls (380,870) and (360,1100) .. (btg4.west);
    \draw[wire] (btB2.west) .. controls (430,850) and (440,890) .. (btfp1.west);

    % right purple
    \foreach \a/\b in {btY1/rpc3, btY2/rpc3, btY3/rpc3, btx/rpc3, btc28/rpp, rpp/rpc2, rpp/rpg,
        rpc3/rpc4, rpc3/rpy8, rpc4/rpy9, mgd7/rpc3}
      \draw[wire] (\a.east) to[out=0,in=180] (\b.west);
    \foreach \k in {1,...,7}
      \draw[wire] (rpC.east) to[out=0,in=180] (rpy\k.west);
    \draw[wire] (rpc1.east) .. controls (1200,720) and (1090,830) .. (rpc3.west);
    \draw[wire] (rpc1.east) .. controls (1190,712) and (1200,765) .. (rpC.west);
    \draw[cedge, densely dotted, line width=0.6pt] (rpo.east) -| (rpc2.north east);
  \end{pgfonlayer}
\end{tikzpicture}
\end{document}
